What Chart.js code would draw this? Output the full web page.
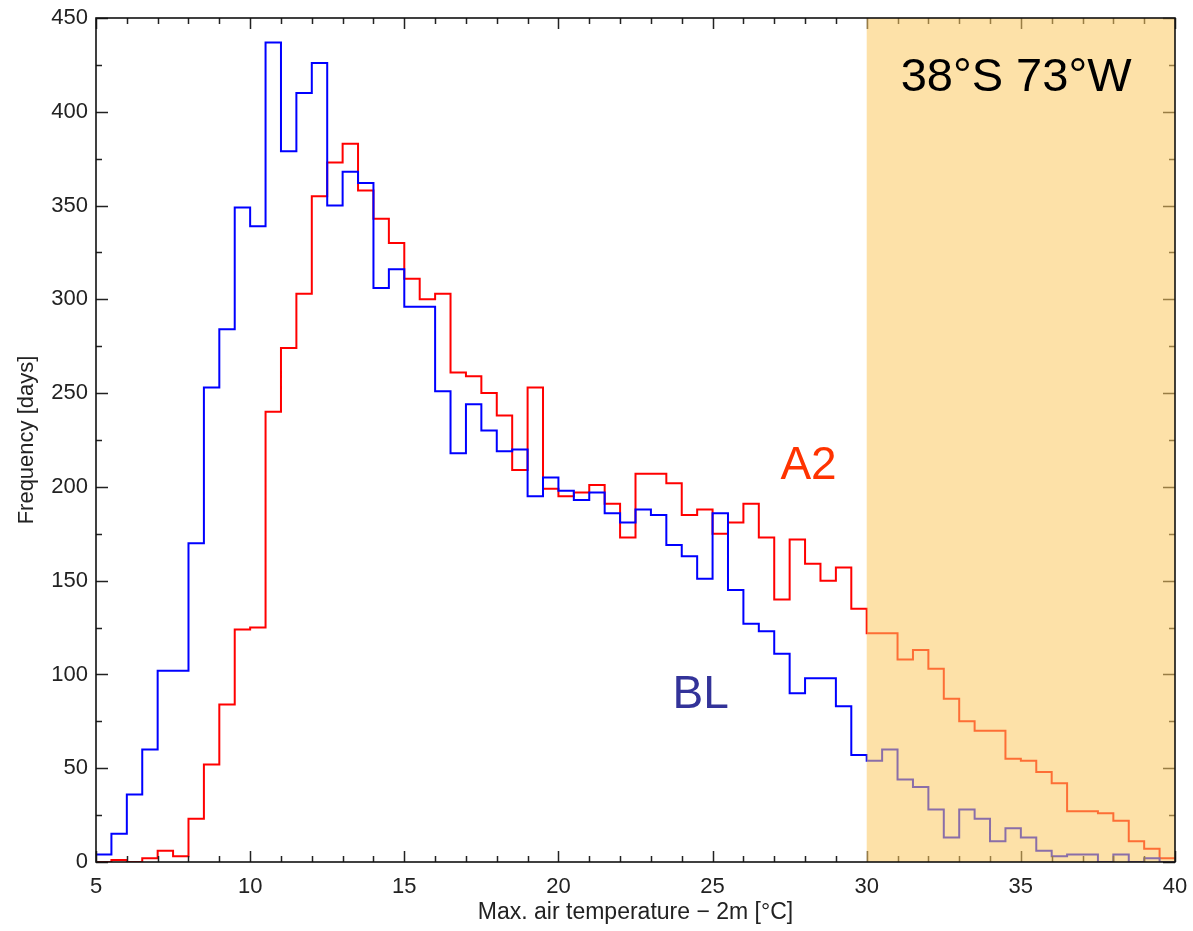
<!DOCTYPE html>
<html>
<head>
<meta charset="utf-8">
<title>Max. air temperature histogram</title>
<script src="https://cdn.jsdelivr.net/npm/chart.js@4.4.1/dist/chart.umd.min.js"></script>
<style>
    html, body { margin: 0; padding: 0; background: #ffffff; }
    #histChart { display: block; }
</style>
</head>
<body>
<canvas id="histChart" width="1193" height="931"></canvas>
<script>
// bin edges, 0.5 °C wide
var binEdges = [5, 5.5, 6, 6.5, 7, 7.5, 8, 8.5, 9, 9.5, 10, 10.5, 11, 11.5, 12, 12.5, 13, 13.5, 14, 14.5,
    15, 15.5, 16, 16.5, 17, 17.5, 18, 18.5, 19, 19.5, 20, 20.5, 21, 21.5, 22, 22.5, 23, 23.5, 24, 24.5,
    25, 25.5, 26, 26.5, 27, 27.5, 28, 28.5, 29, 29.5, 30, 30.5, 31, 31.5, 32, 32.5, 33, 33.5, 34, 34.5,
    35, 35.5, 36, 36.5, 37, 37.5, 38, 38.5, 39, 39.5, 40];

// frequency [days] per bin
var freqBL = [4, 15, 36, 60, 102, 102, 170, 253, 284, 349, 339, 437, 379, 410, 426, 350, 368, 362, 306, 316,
    296, 296, 251, 218, 244, 230, 219, 220, 195, 205, 198, 193, 197, 186, 181, 188, 185, 169, 163, 151,
    186, 145, 127, 123, 111, 90, 98, 98, 83, 57, 54, 60, 44, 40, 28, 13, 28, 23, 11, 18,
    13, 6, 3, 4, 4, 0, 4, 0, 2, 0];

var freqA2 = [0, 1, 0, 2, 6, 3, 23, 52, 84, 124, 125, 240, 274, 303, 355, 373, 383, 358, 343, 330,
    311, 300, 303, 261, 259, 250, 238, 209, 253, 199, 195, 197, 201, 191, 173, 207, 207, 202, 185, 188,
    175, 181, 191, 173, 140, 172, 159, 150, 157, 135, 122, 122, 108, 113, 103, 87, 75, 70, 70, 55,
    54, 48, 42, 27, 27, 26, 22, 11, 7, 2];

var xTicks = [5, 10, 15, 20, 25, 30, 35, 40];
var yTicks = [0, 50, 100, 150, 200, 250, 300, 350, 400, 450];
var hotRange = [30, 40];

var xTitle = 'Max. air temperature \u2212 2m [\u00b0C]';
var yTitle = 'Frequency [days]';
var siteLabel = '38\u00b0S 73\u00b0W';

var FONT = '"Liberation Sans", Arial, Helvetica, sans-serif';

function stepPoints(values) {
    var pts = [];
    for (var i = 0; i < values.length; i++) {
        pts.push({ x: binEdges[i], y: values[i] });
    }
    pts.push({ x: binEdges[binEdges.length - 1], y: values[values.length - 1] });
    return pts;
}

// inward ticks, shaded warm range, frame and labels
var framePlugin = {
    id: 'frame',
    afterDatasetsDraw: function(chart) {
        var ctx = chart.ctx;
        var area = chart.chartArea;
        var xs = chart.scales.x;
        var ys = chart.scales.y;
        var v, p, major;

        ctx.save();
        ctx.strokeStyle = '#222222';
        ctx.lineWidth = 1.5;
        ctx.beginPath();
        for (v = 5; v <= 40; v++) {
            p = Math.round(xs.getPixelForValue(v)) + 0.5;
            major = (v % 5 === 0) ? 11 : 6;
            ctx.moveTo(p, area.bottom); ctx.lineTo(p, area.bottom - major);
            ctx.moveTo(p, area.top); ctx.lineTo(p, area.top + major);
        }
        for (v = 0; v <= 450; v += 25) {
            p = Math.round(ys.getPixelForValue(v)) + 0.5;
            major = (v % 50 === 0) ? 12 : 6;
            ctx.moveTo(area.left, p); ctx.lineTo(area.left + major, p);
            ctx.moveTo(area.right, p); ctx.lineTo(area.right - major, p);
        }
        ctx.stroke();

        // shaded range > 30 °C
        var x0 = xs.getPixelForValue(hotRange[0]);
        var x1 = xs.getPixelForValue(hotRange[1]);
        ctx.fillStyle = 'rgba(252, 200, 97, 0.55)';
        ctx.fillRect(x0, area.top, x1 - x0, area.bottom - area.top);

        ctx.strokeStyle = '#111111';
        ctx.lineWidth = 1.6;
        ctx.strokeRect(area.left, area.top, area.right - area.left, area.bottom - area.top);

        ctx.textAlign = 'left';
        ctx.textBaseline = 'alphabetic';
        ctx.font = '47px ' + FONT;
        ctx.fillStyle = '#000000';
        ctx.fillText(siteLabel, xs.getPixelForValue(31.1), ys.getPixelForValue(411));
        ctx.font = '46px ' + FONT;
        ctx.fillStyle = '#ff3300';
        ctx.fillText('A2', xs.getPixelForValue(27.2), ys.getPixelForValue(204));
        ctx.fillStyle = '#333399';
        ctx.fillText('BL', xs.getPixelForValue(23.7), ys.getPixelForValue(82));
        ctx.restore();
    }
};

var chart = new Chart(document.getElementById('histChart'), {
    type: 'line',
    data: {
        datasets: [{
            label: 'BL',
            data: stepPoints(freqBL),
            borderColor: 'rgb(0, 0, 255)',
            borderWidth: 2,
            stepped: 'before',
            pointRadius: 0,
            fill: false
        }, {
            label: 'A2',
            data: stepPoints(freqA2),
            borderColor: 'rgb(255, 0, 0)',
            borderWidth: 2,
            stepped: 'before',
            pointRadius: 0,
            fill: false
        }]
    },
    options: {
        responsive: false,
        animation: false,
        devicePixelRatio: 1,
        layout: { padding: { top: 18, right: 18, left: 0, bottom: 0 } },
        plugins: {
            legend: { display: false },
            tooltip: { enabled: false }
        },
        scales: {
            x: {
                type: 'linear',
                min: 5,
                max: 40,
                afterBuildTicks: function(scale) {
                    scale.ticks = xTicks.map(function(t) { return { value: t }; });
                },
                afterFit: function(scale) {
                    scale.height = 69;
                    scale.paddingLeft = 0;
                    scale.paddingRight = 0;
                },
                grid: { display: false, drawTicks: false },
                border: { display: false },
                ticks: {
                    color: '#222222',
                    padding: 12,
                    maxRotation: 0,
                    font: { family: FONT, size: 22 }
                },
                title: {
                    display: true,
                    text: xTitle,
                    color: '#222222',
                    padding: { top: 0, bottom: 5 },
                    font: { family: FONT, size: 23 }
                }
            },
            y: {
                min: 0,
                max: 450,
                afterBuildTicks: function(scale) {
                    scale.ticks = yTicks.map(function(t) { return { value: t }; });
                },
                afterFit: function(scale) {
                    scale.width = 96;
                    scale.paddingTop = 0;
                    scale.paddingBottom = 0;
                },
                grid: { display: false, drawTicks: false },
                border: { display: false },
                ticks: {
                    color: '#222222',
                    padding: 8,
                    font: { family: FONT, size: 22 }
                },
                title: {
                    display: true,
                    text: yTitle,
                    color: '#222222',
                    padding: { top: 14, bottom: 0 },
                    font: { family: FONT, size: 22 }
                }
            }
        }
    },
    plugins: [framePlugin]
});
</script>
</body>
</html>
